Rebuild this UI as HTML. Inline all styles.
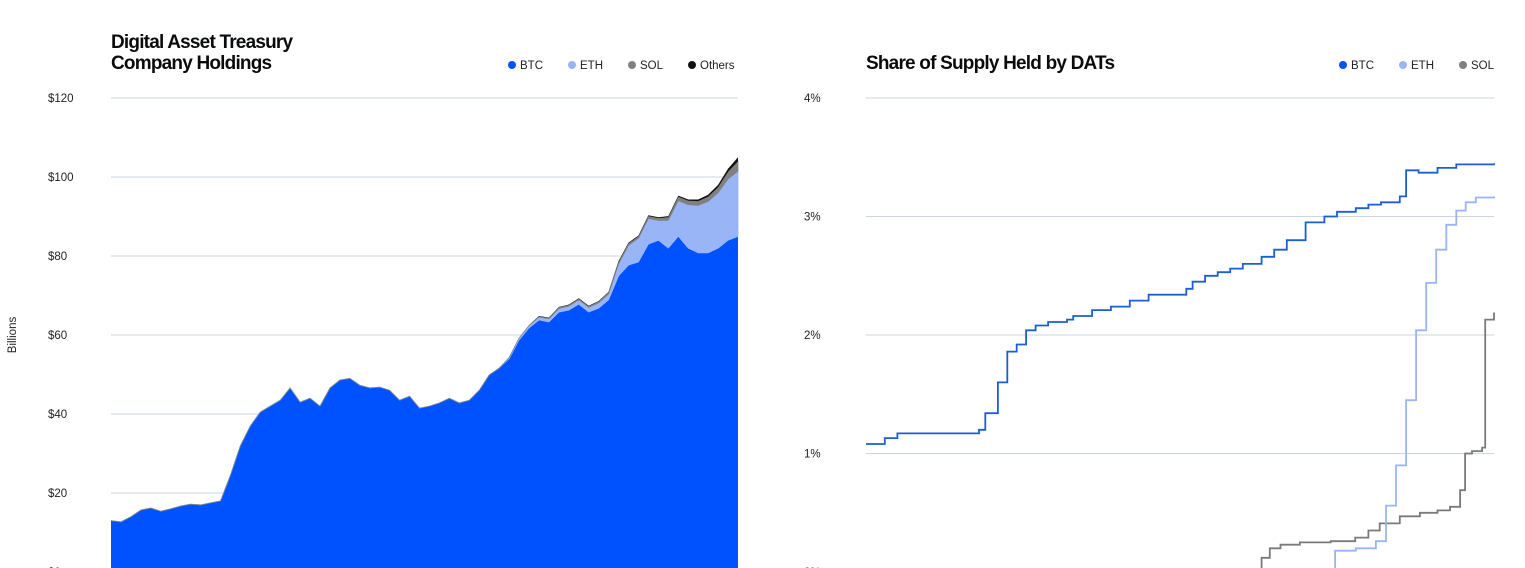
<!DOCTYPE html>
<html><head><meta charset="utf-8"><style>
body{margin:0;background:#fff;width:1525px;height:568px;overflow:hidden;font-family:"Liberation Sans",sans-serif}
svg{position:absolute;left:0;top:0}
.t{font-family:"Liberation Sans",sans-serif;font-weight:bold;font-size:19px;letter-spacing:-0.8px;fill:#0a0b0d}
.tk{font-size:11.5px;fill:#222}
.lg{font-size:11.5px;fill:#222}
</style></head><body>
<svg id="c" width="1525" height="568"></svg>
<script>
// Left chart data (billions), sampled evenly across time
const leftBTC=[13,12.7,14,15.7,16.2,15.4,16,16.7,17.2,17,17.5,18,24.5,32,37,40.5,42,43.5,46.6,43,44,42,46.6,48.6,49,47.3,46.6,46.8,46,43.5,44.5,41.5,42,42.8,44,42.8,43.5,46,49.9,51.6,54,58.7,61.8,63.8,63.3,65.8,66.3,67.8,65.8,66.8,68.9,75,77.7,78.5,83,84,82,85,82,80.8,80.8,82,84,85];
const leftETH=[0,0,0,0,0,0,0,0,0,0,0,0,0,0,0,0,0,0,0,0,0,0,0,0,0,0,0,0,0,0,0,0,0,0,0,0,0,0,0,0,0.3,0.5,0.6,0.7,0.8,0.9,1,1.1,1.2,1.3,1.5,3,5,6,6.5,5,7,9,11,12,13,14,15.5,16.5];
const leftSOL=[0,0,0,0,0,0,0,0,0,0,0,0,0,0,0,0,0,0,0,0,0,0,0,0,0,0,0,0,0,0,0,0,0,0,0,0,0,0,0,0,0,0,0,0.2,0.2,0.3,0.3,0.3,0.3,0.4,0.4,0.5,0.5,0.5,0.6,0.6,0.8,1,1,1.1,1.2,1.4,1.8,2.5];
const leftOthers=[0,0,0,0,0,0,0,0,0,0,0,0,0,0,0,0,0,0,0,0,0,0,0,0,0,0,0,0,0,0,0,0,0,0,0,0,0,0,0,0,0,0,0,0.1,0.1,0.1,0.1,0.1,0.1,0.1,0.1,0.2,0.2,0.2,0.2,0.2,0.3,0.3,0.3,0.4,0.5,0.6,0.8,1];
const leftTicks=["$0","$20","$40","$60","$80","$100","$120"];
const leftTickVals=[0,20,40,60,80,100,120];
// Right chart data: [time 0..100, % share] step points
const rBTCt=[0,3,5,18,19,21,22.5,24,25.5,27,29,32,33,36,39,42,45,51,52,54,56,58,60,63,65,67,70,73,75,78,80,82,85,86,88,91,94,100];
const rBTCv=[1.08,1.13,1.17,1.2,1.34,1.6,1.86,1.92,2.04,2.08,2.11,2.13,2.16,2.21,2.24,2.29,2.34,2.39,2.45,2.5,2.53,2.56,2.6,2.66,2.72,2.8,2.95,3.0,3.04,3.07,3.1,3.12,3.17,3.39,3.37,3.41,3.44,3.45];
const rETHt=[74.2,74.7,78,81.2,82.8,84.4,86,87.6,89.2,90.8,92.4,94,95.5,97.1,100];
const rETHv=[0,0.18,0.2,0.26,0.56,0.9,1.45,2.04,2.44,2.72,2.93,3.05,3.12,3.16,3.17];
const rSOLt=[48,62.4,63,64.3,66,69.1,74,77.9,80,81.8,85,88.2,91,93,94.6,95.4,96.5,98.1,98.6,100];
const rSOLv=[0,0,0.12,0.2,0.23,0.25,0.26,0.29,0.35,0.41,0.47,0.5,0.52,0.55,0.69,1.0,1.02,1.05,2.13,2.19];
const rightTicks=["0%","1%","2%","3%","4%"];
const rightTickVals=[0,1,2,3,4];

const NS="http://www.w3.org/2000/svg",svg=document.getElementById('c');
function mk(tag,attrs,parent){const e=document.createElementNS(NS,tag);for(const k in attrs)e.setAttribute(k,attrs[k]);(parent||svg).appendChild(e);return e;}
function txt(x,y,s,cls,anchor){const e=mk('text',{x:x,y:y,class:cls,'text-anchor':anchor||'start'});e.textContent=s;return e;}

// Left axes
const LX0=111,LX1=738,LY0=572,LYtop=98;
const lx=i=>LX0+(LX1-LX0)*i/(leftBTC.length-1);
const ly=v=>LY0-(LY0-LYtop)*v/120;
leftTickVals.forEach((v,i)=>{
  const g=mk('line',{x1:LX0,x2:LX1,y1:ly(v),y2:ly(v),stroke:'#ccd4dc','stroke-width':1});
  
  
  const t=txt(48,ly(v)+4,leftTicks[i],'tk');
  
  
});
const yt=txt(0,0,'Billions','tk','middle');yt.setAttribute('transform','translate(16,335) rotate(-90)');


// stacked areas
const series=[[leftBTC,'#0052ff','btc',0],[leftETH,'#9ab5f5','eth',0.8],[leftSOL,'#808080','sol',0.7],[leftOthers,'#111','others',0]];
let base=leftBTC.map(()=>0);
series.forEach(([arr,col,nm,sw])=>{
  const top=base.map((b,i)=>b+arr[i]);
  let d='M'+top.map((v,i)=>lx(i).toFixed(1)+','+ly(v).toFixed(1)).join('L');
  for(let i=base.length-1;i>=0;i--)d+='L'+lx(i).toFixed(1)+','+ly(base[i]).toFixed(1);
  const p=mk('path',{d:d+'Z',fill:col,stroke:sw?col:'none','stroke-width':sw});
  
  
  base=top;
});
const t1=txt(111,48,'Digital Asset Treasury','t');


txt(111,69,'Company Holdings','t');
// left legend
[['BTC','#0052ff',508],['ETH','#9ab5f5',568],['SOL','#808080',628],['Others','#111',688]].forEach(([n,c,x])=>{
  const d=mk('circle',{cx:x+4,cy:65,r:4,fill:c});
  
  
  const t=txt(x+12,69,n,'lg');
  
  
});

// Right chart
const RX0=866,RX1=1494,RY0=572,RYtop=98;
const rx=t=>RX0+(RX1-RX0)*t/100;
const ry=v=>RY0-(RY0-RYtop)*v/4;
rightTickVals.forEach((v,i)=>{
  const g=mk('line',{x1:RX0,x2:RX1,y1:ry(v),y2:ry(v),stroke:'#ccd4dc','stroke-width':1});
  
  
  const t=txt(804,ry(v)+4,rightTicks[i],'tk');
  
  
});
function stepLine(ts,vs,col,nm){
  let d='M'+rx(ts[0]).toFixed(1)+','+ry(vs[0]).toFixed(1);
  for(let i=1;i<ts.length;i++){d+='L'+rx(ts[i]).toFixed(1)+','+ry(vs[i-1]).toFixed(1)+'L'+rx(ts[i]).toFixed(1)+','+ry(vs[i]).toFixed(1);}
  const p=mk('path',{d:d,fill:'none',stroke:col,'stroke-width':1.8});
  
  
}
stepLine(rSOLt,rSOLv,'#7a7a7a','sol');
stepLine(rETHt,rETHv,'#9ab5f5','eth');
stepLine(rBTCt,rBTCv,'#1a5fd6','btc');
const t2=txt(866,69,'Share of Supply Held by DATs','t');


[['BTC','#0052ff',1339],['ETH','#9ab5f5',1399],['SOL','#808080',1459]].forEach(([n,c,x])=>{
  const d=mk('circle',{cx:x+4,cy:65,r:4,fill:c});
  
  
  const t=txt(x+12,69,n,'lg');
  
  
});
</script>
</body></html>
